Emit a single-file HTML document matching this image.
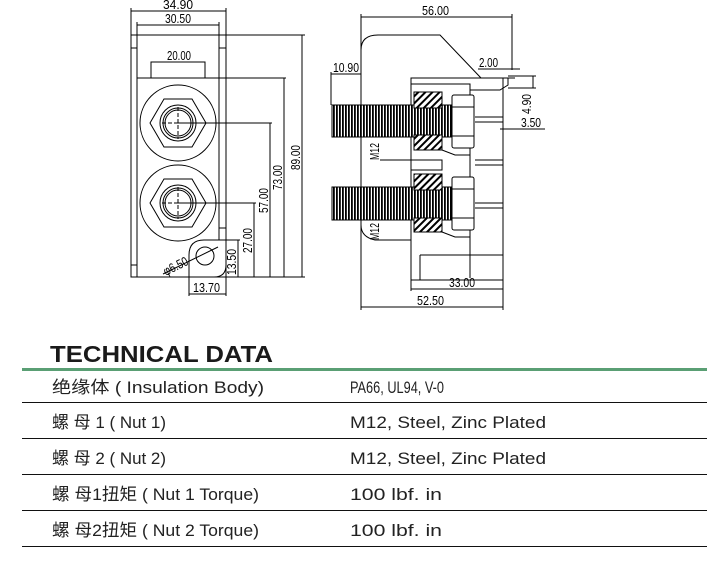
<!DOCTYPE html>
<html><head><meta charset="utf-8"><style>
html,body{margin:0;padding:0;background:#fff;width:721px;height:564px;overflow:hidden}
svg{display:block}
text{font-family:"Liberation Sans","Noto Sans CJK SC",sans-serif}
</style></head><body>
<svg width="721" height="564" viewBox="0 0 721 564" xmlns="http://www.w3.org/2000/svg">
<defs>
<pattern id="thr" width="3" height="10" patternUnits="userSpaceOnUse"><rect width="3" height="10" fill="#fff"/><rect width="1.8" height="10" fill="#000"/></pattern>
<pattern id="hat" width="5" height="5" patternUnits="userSpaceOnUse" patternTransform="rotate(45)"><rect width="5" height="5" fill="#fff"/><rect width="2" height="5" fill="#000"/></pattern>
</defs>
<g fill="none" stroke="#000" stroke-width="1">
<rect x="131" y="35" width="95" height="242"/>
<rect x="137" y="78" width="82" height="199"/>
<line x1="137" y1="35" x2="137" y2="78"/><line x1="219" y1="35" x2="219" y2="78"/>
<line x1="131" y1="48" x2="137" y2="48"/><line x1="131" y1="265" x2="137" y2="265"/>
<line x1="219" y1="48" x2="226" y2="48"/><line x1="219" y1="228" x2="226" y2="228"/>
<rect x="151" y="62" width="54" height="16"/>
<g id="n1">
<circle cx="178" cy="123" r="38"/>
<polygon points="150,123 164,99 192,99 206,123 192,147 164,147"/>
<circle cx="178" cy="123" r="18"/><circle cx="178" cy="123" r="15"/><circle cx="178" cy="123" r="13"/>
<line x1="162" y1="123" x2="194" y2="123" stroke-dasharray="4 2"/><line x1="178" y1="107" x2="178" y2="139" stroke-dasharray="4 2"/>
</g>
<use href="#n1" y="80"/>
<path d="M189,277 V255 Q189,240 204,240 H226 V265 Q226,277 214,277 Z" fill="#fff"/>
<circle cx="205" cy="256" r="9"/>
<line x1="163" y1="274" x2="218" y2="247"/>
<line x1="131" y1="8" x2="131" y2="35"/><line x1="226" y1="8" x2="226" y2="35"/>
<line x1="131" y1="11" x2="226" y2="11"/>
<line x1="137" y1="22" x2="137" y2="35"/><line x1="219" y1="22" x2="219" y2="35"/>
<line x1="137" y1="25" x2="219" y2="25"/>
<line x1="151" y1="62" x2="205" y2="62"/>
<line x1="226" y1="35" x2="305" y2="35"/><line x1="302" y1="35" x2="302" y2="277"/>
<line x1="219" y1="78" x2="286" y2="78"/><line x1="284" y1="78" x2="284" y2="277"/>
<line x1="178" y1="123" x2="272" y2="123"/><line x1="270" y1="123" x2="270" y2="277"/>
<line x1="178" y1="203" x2="256" y2="203"/><line x1="254" y1="203" x2="254" y2="277"/>
<line x1="226" y1="240" x2="240" y2="240"/><line x1="238" y1="240" x2="238" y2="277"/>
<line x1="131" y1="277" x2="305" y2="277"/>
<line x1="189" y1="277" x2="189" y2="296"/><line x1="226" y1="277" x2="226" y2="296"/>
<line x1="189" y1="294" x2="226" y2="294"/>
<path d="M361,235 V50 Q361,35 378,35 H440 L481,78"/>
<path d="M361,225 Q361,237 375,240 H411"/>
<rect x="411" y="78" width="92" height="202"/>
<path d="M411,84 H470 V278"/><path d="M470,90 H500 L508,85 V78"/>
<line x1="482" y1="78" x2="515" y2="78"/>
<line x1="475" y1="160" x2="503" y2="160"/><line x1="475" y1="165" x2="503" y2="165"/>
<line x1="475" y1="203" x2="503" y2="203"/><line x1="475" y1="208" x2="503" y2="208"/>
<line x1="475" y1="117" x2="503" y2="117"/><line x1="475" y1="122" x2="503" y2="122"/>
<line x1="420" y1="255" x2="503" y2="255"/><line x1="420" y1="255" x2="420" y2="280"/>
<path d="M442,150 L455,155 H470"/><path d="M442,232 L455,237 H470"/>
<path d="M411,160 H442 V170 H411"/>
<rect x="332" y="105" width="120" height="32" fill="url(#thr)"/>
<rect x="332" y="187" width="120" height="33" fill="url(#thr)"/>
<rect x="414" y="92" width="28" height="16" fill="url(#hat)"/>
<rect x="414" y="135" width="28" height="15" fill="url(#hat)"/>
<rect x="414" y="174" width="28" height="16" fill="url(#hat)"/>
<rect x="414" y="218" width="28" height="14" fill="url(#hat)"/>
<rect x="452" y="95" width="22" height="53" fill="#fff" rx="2"/>
<line x1="452" y1="107" x2="474" y2="107"/><line x1="452" y1="136" x2="474" y2="136"/>
<rect x="452" y="177" width="22" height="53" fill="#fff" rx="2"/>
<line x1="452" y1="189" x2="474" y2="189"/><line x1="452" y1="218" x2="474" y2="218"/>
<line x1="361" y1="14" x2="361" y2="310"/><line x1="512" y1="14" x2="512" y2="70"/>
<line x1="361" y1="17" x2="512" y2="17"/>
<line x1="331" y1="72" x2="331" y2="105"/><line x1="331" y1="74" x2="361" y2="74"/>
<line x1="478" y1="69" x2="520" y2="69"/>
<line x1="508" y1="76" x2="536" y2="76"/><line x1="508" y1="88" x2="536" y2="88"/>
<line x1="533" y1="76" x2="533" y2="88"/>
<line x1="500" y1="129" x2="545" y2="129"/>
<line x1="411" y1="280" x2="411" y2="291"/><line x1="411" y1="289" x2="503" y2="289"/>
<line x1="503" y1="280" x2="503" y2="310"/><line x1="361" y1="307" x2="503" y2="307"/>
<line x1="380" y1="160" x2="411" y2="160"/><line x1="380" y1="240" x2="411" y2="240"/>
</g>
<g font-size="13" fill="#000">
<text x="163" y="9" textLength="30" lengthAdjust="spacingAndGlyphs">34.90</text>
<text x="165" y="23" textLength="26" lengthAdjust="spacingAndGlyphs">30.50</text>
<text x="167" y="60" textLength="24" lengthAdjust="spacingAndGlyphs">20.00</text>
<text x="193" y="292" textLength="27" lengthAdjust="spacingAndGlyphs">13.70</text>
<text transform="translate(166,276) rotate(-27)" textLength="26" lengthAdjust="spacingAndGlyphs">φ6.50</text>
<text transform="translate(236,275) rotate(-90)" textLength="26" lengthAdjust="spacingAndGlyphs">13.50</text>
<text transform="translate(252,253) rotate(-90)" textLength="25" lengthAdjust="spacingAndGlyphs">27.00</text>
<text transform="translate(268,213) rotate(-90)" textLength="25" lengthAdjust="spacingAndGlyphs">57.00</text>
<text transform="translate(282,190) rotate(-90)" textLength="25" lengthAdjust="spacingAndGlyphs">73.00</text>
<text transform="translate(300,170) rotate(-90)" textLength="25" lengthAdjust="spacingAndGlyphs">89.00</text>
<text x="422" y="15" textLength="27" lengthAdjust="spacingAndGlyphs">56.00</text>
<text x="333" y="72" textLength="26" lengthAdjust="spacingAndGlyphs">10.90</text>
<text x="479" y="67" textLength="19" lengthAdjust="spacingAndGlyphs">2.00</text>
<text transform="translate(531,114) rotate(-90)" textLength="20" lengthAdjust="spacingAndGlyphs">4.90</text>
<text x="521" y="127" textLength="20" lengthAdjust="spacingAndGlyphs">3.50</text>
<text transform="translate(379,160) rotate(-90)" textLength="17" lengthAdjust="spacingAndGlyphs">M12</text>
<text transform="translate(379,240) rotate(-90)" textLength="17" lengthAdjust="spacingAndGlyphs">M12</text>
<text x="449" y="287" textLength="26" lengthAdjust="spacingAndGlyphs">33.00</text>
<text x="417" y="305" textLength="27" lengthAdjust="spacingAndGlyphs">52.50</text>
</g>
<text x="50" y="362" font-size="23" font-weight="bold" fill="#1a1a1a" textLength="223" lengthAdjust="spacingAndGlyphs">TECHNICAL DATA</text>
<rect x="22" y="368" width="685" height="3" fill="#5a9f74"/>
<g fill="#111">
<rect x="22" y="402" width="685" height="1"/><rect x="22" y="438" width="685" height="1"/>
<rect x="22" y="474" width="685" height="1"/><rect x="22" y="510" width="685" height="1"/>
<rect x="22" y="546" width="685" height="1"/>
</g>
<g font-size="17" fill="#222">
<text x="52" y="393" textLength="212" lengthAdjust="spacingAndGlyphs">绝缘体 ( Insulation Body)</text>
<text x="52" y="428" textLength="114" lengthAdjust="spacingAndGlyphs">螺 母 1 ( Nut 1)</text>
<text x="52" y="464" textLength="114" lengthAdjust="spacingAndGlyphs">螺 母 2 ( Nut 2)</text>
<text x="52" y="500" textLength="207" lengthAdjust="spacingAndGlyphs">螺 母1扭矩 ( Nut 1 Torque)</text>
<text x="52" y="536" textLength="207" lengthAdjust="spacingAndGlyphs">螺 母2扭矩 ( Nut 2 Torque)</text>
<text x="350" y="393" textLength="94" lengthAdjust="spacingAndGlyphs">PA66, UL94, V-0</text>
<text x="350" y="428" textLength="196" lengthAdjust="spacingAndGlyphs">M12, Steel, Zinc Plated</text>
<text x="350" y="464" textLength="196" lengthAdjust="spacingAndGlyphs">M12, Steel, Zinc Plated</text>
<text x="350" y="500" textLength="92" lengthAdjust="spacingAndGlyphs">100 lbf. in</text>
<text x="350" y="536" textLength="92" lengthAdjust="spacingAndGlyphs">100 lbf. in</text>
</g>
</svg>
</body></html>
